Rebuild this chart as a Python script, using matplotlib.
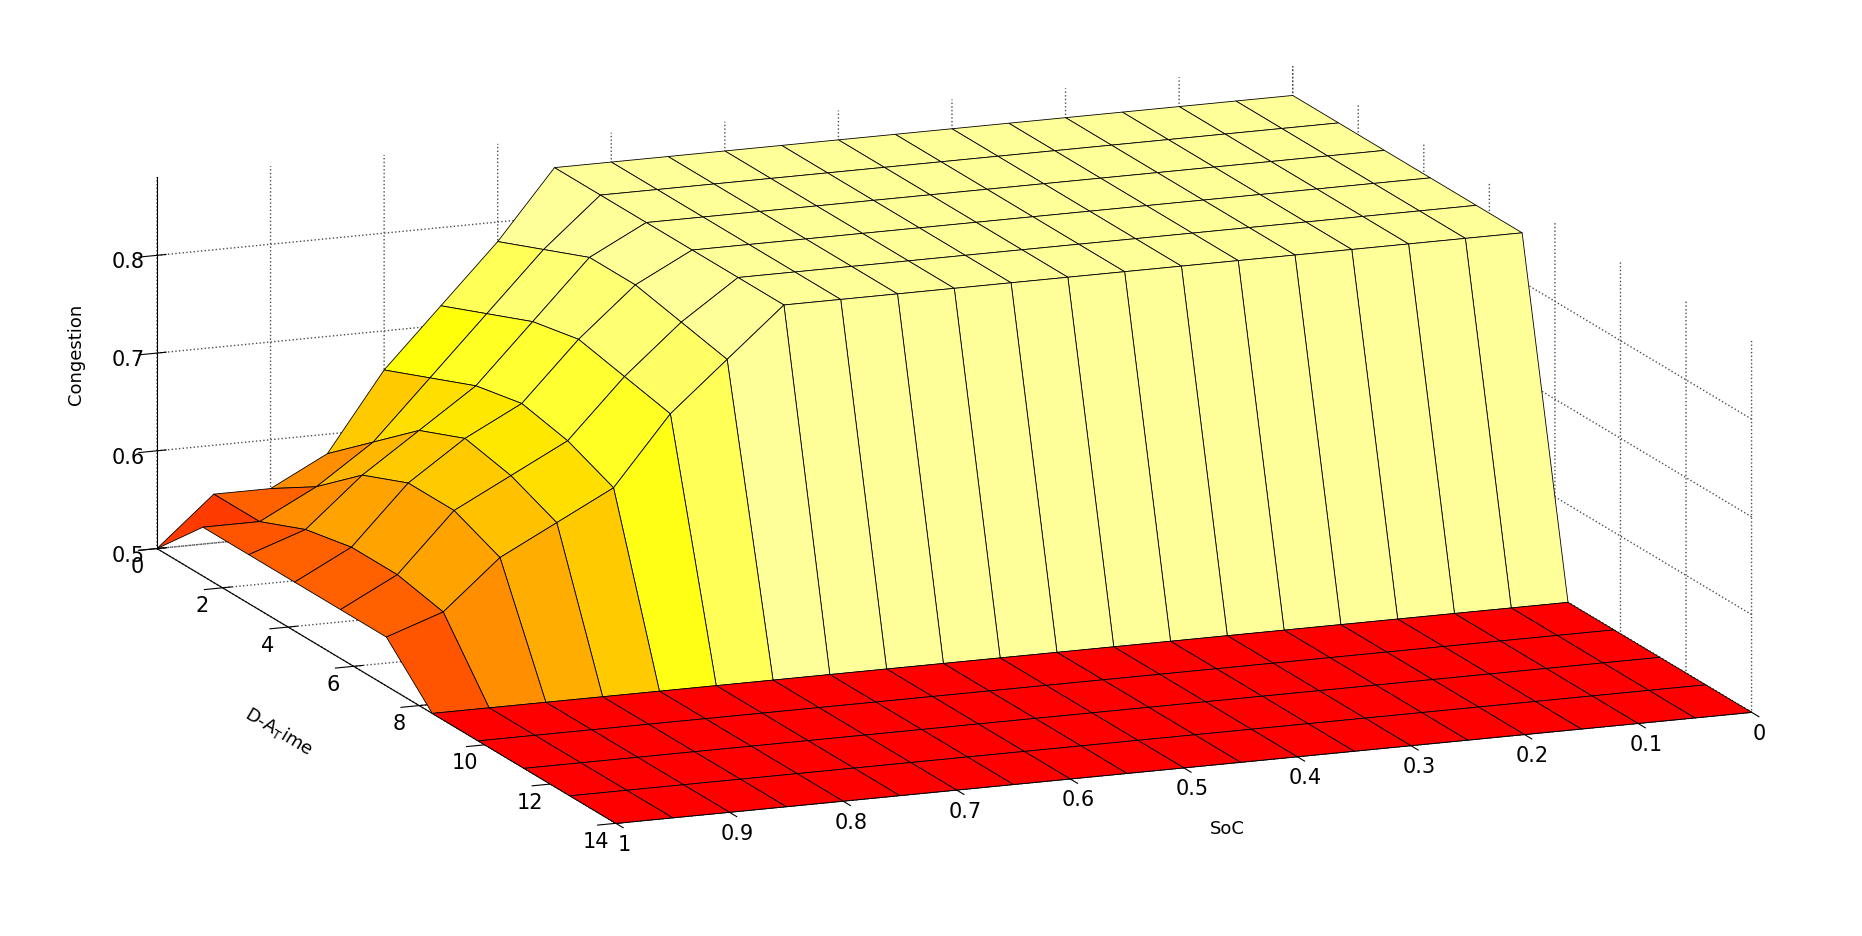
import numpy as np
import matplotlib
matplotlib.use("Agg")
import matplotlib.pyplot as plt
from matplotlib.colors import LinearSegmentedColormap, Normalize

soc = [1.0, 0.95, 0.9, 0.85, 0.8, 0.75, 0.7, 0.65, 0.6, 0.55, 0.5, 0.45, 0.4,
       0.35, 0.3, 0.25, 0.2, 0.15, 0.1, 0.05, 0.0]
da_time = [0, 1.4, 2.8, 4.2, 5.6, 7.0, 8.4, 9.8, 11.2, 12.6, 14.0]
rows_head = [
    [0.50, 0.55, 0.55, 0.58, 0.66, 0.72, 0.78, 0.85],
    [0.55, 0.55, 0.58, 0.62, 0.68, 0.74, 0.80, 0.85],
    [0.55, 0.57, 0.62, 0.66, 0.70, 0.76, 0.82, 0.85],
    [0.55, 0.58, 0.64, 0.68, 0.71, 0.77, 0.82, 0.85],
    [0.55, 0.58, 0.64, 0.67, 0.70, 0.76, 0.81, 0.85],
    [0.55, 0.57, 0.62, 0.65, 0.68, 0.75, 0.80, 0.85],
]
plateau = 0.85
floor = 0.50

S, T = np.meshgrid(soc, da_time)
Z = np.full(S.shape, floor)
for i, r in enumerate(rows_head):
    Z[i, :] = plateau
    Z[i, :len(r)] = r

cmap = LinearSegmentedColormap.from_list(
    "ry", [(1, 0, 0), (1, 0.55, 0), (1, 1, 0), (1, 1, 0.6)])
norm = Normalize(0.5, 0.85)
Zf = Z.copy()
Zf[:-1, :-1] = np.maximum.reduce([Z[:-1, :-1], Z[1:, :-1], Z[:-1, 1:], Z[1:, 1:]])
fc = cmap(norm(Zf))

fig = plt.figure(figsize=(18.62, 9.36), dpi=100)
ax = fig.add_axes([-0.17, -0.42, 1.34, 1.84], projection="3d", proj_type="ortho")
ax.plot_surface(S, T, Z, facecolors=fc, edgecolor="k",
                linewidth=0.6, shade=False, rstride=1, cstride=1)
ax.set_xlim(1, 0)
ax.set_ylim(14, 0)
ax.set_zlim(0.5, 0.88)
ax.set_xticks([1, 0.9, 0.8, 0.7, 0.6, 0.5, 0.4, 0.3, 0.2, 0.1, 0])
ax.set_xticklabels(["1", "0.9", "0.8", "0.7", "0.6", "0.5", "0.4", "0.3", "0.2", "0.1", "0"])
ax.set_yticks([0, 2, 4, 6, 8, 10, 12, 14])
ax.set_zticks([0.5, 0.6, 0.7, 0.8])
ax.set_xlabel("SoC", fontsize=13, labelpad=40)
ax.set_ylabel(r"D-A$_\mathrm{T}$ime", fontsize=13, labelpad=40)
ax.set_zlabel("Congestion", fontsize=13, labelpad=12)
ax.tick_params(labelsize=15)
ax.view_init(elev=14, azim=-112)
ax.set_box_aspect((3.2, 3.2, 1.0))
for a in (ax.xaxis, ax.yaxis, ax.zaxis):
    a.set_pane_color((1, 1, 1, 1))
    a._axinfo["grid"]["linestyle"] = ":"
    a._axinfo["grid"]["color"] = (0.3, 0.3, 0.3, 1)
    a._axinfo["grid"]["linewidth"] = 1.0
fig.savefig("out.png", dpi=100)
